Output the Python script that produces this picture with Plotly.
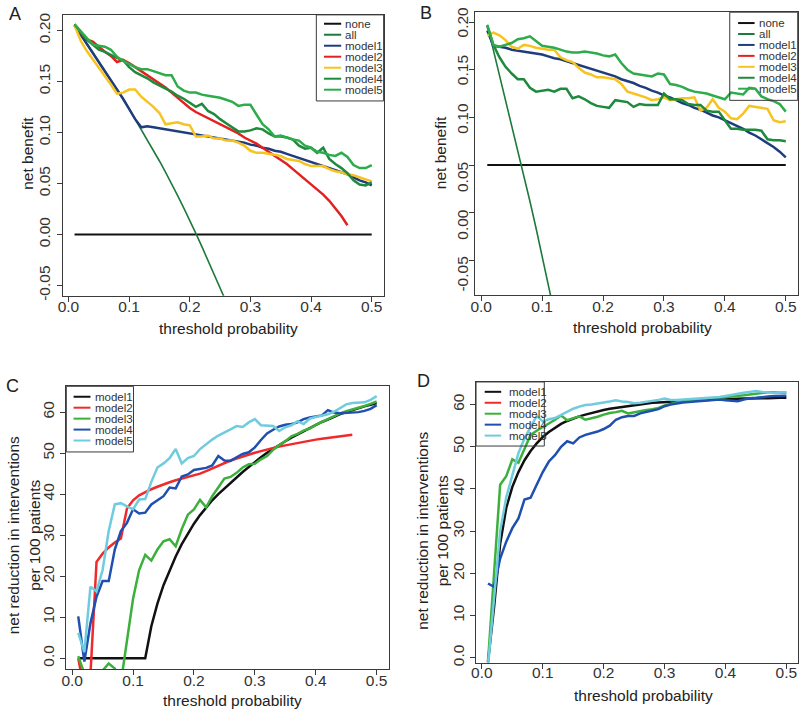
import plotly.graph_objects as go

# ---------------- data ----------------
pt = [0.01, 0.02, 0.03, 0.04, 0.05, 0.06, 0.07, 0.08, 0.09, 0.10,
      0.11, 0.12, 0.13, 0.14, 0.15, 0.16, 0.17, 0.18, 0.19, 0.20,
      0.21, 0.22, 0.23, 0.24, 0.25, 0.26, 0.27, 0.28, 0.29, 0.30,
      0.31, 0.32, 0.33, 0.34, 0.35, 0.36, 0.37, 0.38, 0.39, 0.40,
      0.41, 0.42, 0.43, 0.44, 0.45, 0.46, 0.47, 0.48, 0.49, 0.50]

# Panel A (net benefit)
A_none = [0.0] * 50
A_all = [0.205, 0.196, 0.188, 0.179, 0.170, 0.161, 0.152, 0.143, 0.133, 0.123,
         0.113, 0.103, 0.093, 0.083, 0.072, 0.061, 0.050, 0.038, 0.026, 0.014,
         0.001, -0.012, -0.025, -0.038, -0.052, -0.066]
A_model1 = [0.205, 0.196, 0.188, 0.179, 0.170, 0.161, 0.152, 0.143, 0.133, 0.123,
            0.113, 0.105, 0.106, 0.105, 0.104, 0.103, 0.102, 0.101, 0.100, 0.099,
            0.098, 0.097, 0.096, 0.095, 0.094, 0.093, 0.092, 0.091, 0.090, 0.088,
            0.087, 0.085, 0.084, 0.082, 0.081, 0.079, 0.077, 0.075, 0.073, 0.071,
            0.069, 0.067, 0.065, 0.063, 0.061, 0.059, 0.056, 0.053, 0.051, 0.048]
A_model2 = [0.205, 0.198, 0.191, 0.189, 0.184, 0.179, 0.175, 0.169, 0.171, 0.168,
            0.164, 0.160, 0.156, 0.152, 0.148, 0.144, 0.139, 0.134, 0.129, 0.124,
            0.120, 0.117, 0.114, 0.111, 0.108, 0.105, 0.102, 0.099, 0.095, 0.092,
            0.089, 0.085, 0.081, 0.077, 0.073, 0.069, 0.064, 0.059, 0.054, 0.049,
            0.044, 0.039, 0.033, 0.026, 0.018, 0.009]
A_model3 = [0.205, 0.190, 0.180, 0.172, 0.164, 0.156, 0.147, 0.138, 0.139, 0.142,
            0.142, 0.135, 0.130, 0.125, 0.119, 0.108, 0.109, 0.110, 0.108, 0.107,
            0.096, 0.096, 0.097, 0.094, 0.094, 0.092, 0.092, 0.090, 0.087, 0.082,
            0.080, 0.080, 0.079, 0.078, 0.077, 0.074, 0.073, 0.072, 0.069, 0.067,
            0.067, 0.067, 0.064, 0.062, 0.061, 0.059, 0.058, 0.056, 0.054, 0.052]
A_model4 = [0.206, 0.198, 0.191, 0.186, 0.181, 0.179, 0.176, 0.173, 0.171, 0.164,
            0.159, 0.156, 0.153, 0.149, 0.146, 0.143, 0.140, 0.136, 0.133, 0.129,
            0.125, 0.128, 0.121, 0.118, 0.113, 0.109, 0.105, 0.101, 0.101, 0.102,
            0.104, 0.103, 0.099, 0.096, 0.096, 0.095, 0.093, 0.087, 0.084, 0.085,
            0.080, 0.085, 0.074, 0.069, 0.065, 0.060, 0.053, 0.049, 0.048, 0.051]
A_model5 = [0.206, 0.199, 0.192, 0.186, 0.185, 0.184, 0.181, 0.174, 0.170, 0.167,
            0.164, 0.162, 0.162, 0.160, 0.158, 0.156, 0.156, 0.145, 0.141, 0.139,
            0.139, 0.137, 0.136, 0.135, 0.134, 0.132, 0.130, 0.126, 0.127, 0.127,
            0.118, 0.108, 0.103, 0.096, 0.097, 0.095, 0.093, 0.092, 0.087, 0.085,
            0.081, 0.080, 0.078, 0.077, 0.080, 0.076, 0.068, 0.065, 0.065, 0.068]

# Panel B (net benefit)
B_none = [0.05] * 50
B_all = [0.197, 0.171, 0.145, 0.119, 0.093, 0.067, 0.040, 0.012, -0.016, -0.045,
         -0.075, -0.105]
B_model1 = [0.191, 0.175, 0.174, 0.173, 0.171, 0.170, 0.169, 0.168, 0.167, 0.166,
            0.164, 0.162, 0.161, 0.159, 0.157, 0.155, 0.153, 0.151, 0.149, 0.147,
            0.145, 0.143, 0.140, 0.138, 0.136, 0.133, 0.131, 0.128, 0.126, 0.123,
            0.121, 0.118, 0.115, 0.113, 0.110, 0.108, 0.105, 0.102, 0.100, 0.097,
            0.094, 0.091, 0.088, 0.084, 0.081, 0.077, 0.073, 0.069, 0.064, 0.058]
B_model3 = [0.186, 0.189, 0.186, 0.181, 0.174, 0.172, 0.176, 0.175, 0.173, 0.172,
            0.171, 0.171, 0.163, 0.160, 0.158, 0.152, 0.147, 0.145, 0.142, 0.142,
            0.141, 0.140, 0.135, 0.127, 0.125, 0.123, 0.121, 0.118, 0.119, 0.121,
            0.118, 0.119, 0.120, 0.120, 0.121, 0.107, 0.110, 0.119, 0.110, 0.106,
            0.099, 0.098, 0.104, 0.112, 0.111, 0.110, 0.109, 0.097, 0.095, 0.096]
B_model4 = [0.196, 0.176, 0.163, 0.153, 0.146, 0.140, 0.140, 0.131, 0.127, 0.128,
            0.129, 0.127, 0.130, 0.130, 0.120, 0.122, 0.119, 0.115, 0.112, 0.111,
            0.110, 0.118, 0.117, 0.116, 0.111, 0.114, 0.113, 0.113, 0.113, 0.125,
            0.119, 0.119, 0.118, 0.114, 0.113, 0.113, 0.107, 0.106, 0.106, 0.097,
            0.088, 0.088, 0.087, 0.087, 0.087, 0.086, 0.077, 0.076, 0.076, 0.075]
B_model5 = [0.197, 0.176, 0.174, 0.176, 0.178, 0.182, 0.183, 0.185, 0.180, 0.175,
            0.174, 0.173, 0.171, 0.169, 0.168, 0.168, 0.169, 0.168, 0.167, 0.165,
            0.164, 0.166, 0.157, 0.150, 0.146, 0.145, 0.144, 0.143, 0.146, 0.145,
            0.135, 0.134, 0.132, 0.129, 0.127, 0.126, 0.125, 0.123, 0.121, 0.119,
            0.126, 0.125, 0.124, 0.131, 0.130, 0.122, 0.119, 0.117, 0.114, 0.106]

# Panel C (net reduction in interventions)
C_model1 = [0.0, 0.0, 0.0, 0.0, 0.0, 0.0, 0.0, 0.0, 0.0, 0.0,
            0.0, 0.0, 7.8, 13.3, 17.8, 21.5, 24.8, 27.8, 30.4, 32.8,
            34.9, 36.8, 38.5, 40.0, 41.4, 42.8, 44.1, 45.4, 46.6, 47.9,
            49.0, 50.1, 51.1, 52.1, 52.9, 53.8, 54.6, 55.4, 56.1, 56.8,
            57.6, 58.2, 58.9, 59.5, 60.0, 60.5, 61.0, 61.4, 61.8, 62.2]
C_model2 = [0.0, -8.0, -4.0, 23.5, 25.5, 27.0, 28.2, 29.2, 36.5, 38.5,
            39.7, 40.5, 41.2, 41.8, 42.4, 42.9, 43.4, 43.8, 44.2, 44.6,
            45.0, 45.6, 46.3, 47.0, 47.6, 48.2, 48.7, 49.2, 49.7, 50.1,
            50.5, 50.9, 51.3, 51.6, 51.9, 52.2, 52.5, 52.8, 53.0, 53.3,
            53.5, 53.7, 53.9, 54.1, 54.3, 54.5]
C_model3 = [0.5, -4.0, -8.0, -6.0, -3.0, -1.3, -2.5, -6.0, 4.5, 14.5,
            21.5, 25.2, 23.8, 26.5, 28.5, 29.0, 27.3, 31.5, 35.0, 36.3,
            38.6, 36.8, 39.5, 41.5, 43.8, 44.2, 45.2, 46.5, 47.3, 47.4,
            48.5, 49.3, 50.8, 52.0, 52.9, 54.1, 54.7, 55.5, 56.0, 56.9,
            57.6, 58.5, 59.0, 59.7, 60.2, 60.6, 61.0, 61.5, 62.0, 62.6]
C_model4 = [10.2, -0.8, 8.5, 15.0, 18.8, 18.8, 26.5, 31.0, 33.0, 36.3,
            35.3, 35.5, 37.5, 38.5, 39.5, 41.6, 41.4, 44.3, 44.8, 45.9,
            46.1, 46.4, 47.0, 49.3, 48.2, 48.1, 49.0, 49.8, 50.2, 51.4,
            53.2, 54.8, 55.7, 56.5, 56.9, 57.1, 57.5, 58.3, 58.7, 58.9,
            59.2, 60.5, 59.9, 59.7, 59.8, 59.9, 60.0, 60.3, 60.8, 61.7]
C_model5 = [6.2, 1.5, 17.4, 16.3, 21.5, 31.0, 37.5, 37.8, 37.0, 36.3,
            38.7, 38.8, 43.0, 46.5, 47.5, 48.8, 51.0, 47.5, 48.8, 49.3,
            51.0, 52.2, 53.3, 54.3, 55.0, 55.8, 56.6, 56.4, 57.5, 58.3,
            56.8, 56.7, 56.6, 55.4, 56.3, 56.8, 57.8, 57.1, 58.4, 58.8,
            59.2, 59.5, 60.1, 61.0, 61.9, 62.2, 62.3, 62.4, 63.0, 63.9]

# Panel D (net reduction in interventions)
D_model1 = [-1.0, 12.0, 27.0, 35.5, 40.5, 44.0, 46.8, 49.0, 50.8, 52.3,
            53.5, 54.5, 55.4, 56.1, 56.7, 57.2, 57.6, 58.0, 58.4, 58.7,
            59.0, 59.2, 59.5, 59.7, 59.9, 60.1, 60.2, 60.4, 60.5, 60.6,
            60.7, 60.8, 60.9, 61.0, 61.0, 61.1, 61.1, 61.2, 61.2, 61.3,
            61.3, 61.4, 61.4, 61.4, 61.5, 61.5, 61.5, 61.6, 61.6, 61.6]
D_model3 = [-1.0, 20.0, 41.0, 43.0, 47.0, 46.2, 49.5, 52.8, 53.8, 54.6,
            55.5, 56.4, 57.4, 56.3, 56.8, 57.2, 56.4, 56.7, 57.1, 57.6,
            58.0, 58.2, 58.5, 57.9, 58.2, 58.5, 58.7, 58.9, 59.2, 59.8,
            60.2, 60.5, 60.7, 60.9, 61.0, 61.2, 61.3, 61.4, 61.5, 61.7,
            61.9, 62.0, 62.2, 62.4, 62.6, 62.8, 62.9, 62.9, 62.8, 62.8]
D_model4 = [17.6, 16.8, 23.5, 27.5, 30.7, 33.0, 37.5, 37.9, 41.0, 44.0,
            46.5, 48.0, 50.0, 51.3, 50.8, 52.2, 52.8, 53.2, 53.6, 54.2,
            55.0, 56.4, 57.0, 57.3, 57.3, 57.9, 58.3, 58.6, 58.9, 59.6,
            60.0, 60.3, 60.5, 60.6, 60.7, 60.8, 61.0, 61.1, 61.2, 61.0,
            60.9, 60.8, 61.2, 61.5, 61.6, 61.8, 61.9, 62.0, 62.1, 62.1]
D_model5 = [-2.0, 15.0, 30.0, 38.0, 43.5, 48.5, 52.0, 54.5, 57.3, 56.0,
            56.5, 56.8, 57.6, 58.4, 59.0, 59.5, 59.9, 60.0, 60.2, 60.5,
            60.7, 61.0, 60.7, 60.6, 60.3, 60.4, 60.6, 60.8, 61.1, 61.4,
            61.1, 61.1, 61.2, 61.3, 61.4, 61.4, 61.5, 61.6, 61.8, 62.0,
            62.3, 62.6, 62.8, 63.0, 63.2, 63.0, 62.9, 62.8, 62.9, 62.9]

nb_ticks = [-0.05, 0.0, 0.05, 0.10, 0.15, 0.20]
nb_ticktext = ["-0.05", "0.00", "0.05", "0.10", "0.15", "0.20"]
B_label_pos = [-0.0666, -0.0149, 0.0351, 0.0963, 0.1472, 0.1972]
nr_ticks = [0, 10, 20, 30, 40, 50, 60]
nr_ticktext = ["0.0", "10", "20", "30", "40", "50", "60"]
x_ticks = [0.0, 0.1, 0.2, 0.3, 0.4, 0.5]
x_ticktext = ["0.0", "0.1", "0.2", "0.3", "0.4", "0.5"]

legend_AB = ["none", "all", "model1", "model2", "model3", "model4", "model5"]
legend_CD = ["model1", "model2", "model3", "model4", "model5"]

# ---------------- styles ----------------
W, H = 800, 715
FONT = "Liberation Sans, Arial, Helvetica, sans-serif"
TXT = "#222222"
AX = "#3a3a3a"

col_AB = {"none": "#111111", "all": "#1d7a3a", "model1": "#1f3d7d",
          "model2": "#e3221f", "model3": "#f7c321", "model4": "#1e8a3d",
          "model5": "#2eab4b"}
col_CD = {"model1": "#111111", "model2": "#f02a2a", "model3": "#3bb03b",
          "model4": "#1f4fb0", "model5": "#6fcbde"}


def px(x):
    return x / W


def py(y):
    return 1 - y / H


fig = go.Figure()


def add(x, y, color, width, ax):
    fig.add_trace(go.Scatter(x=x[:len(y)], y=y, mode="lines",
                             line=dict(color=color, width=width),
                             xaxis="x" + ax, yaxis="y" + ax,
                             showlegend=False, hoverinfo="skip"))


# Panel A
add(pt, A_none, col_AB["none"], 2, "")
add(pt, A_all, col_AB["all"], 1.6, "")
add(pt, A_model1, col_AB["model1"], 2.5, "")
add(pt, A_model2, col_AB["model2"], 2.5, "")
add(pt, A_model3, col_AB["model3"], 2.5, "")
add(pt, A_model4, col_AB["model4"], 2.5, "")
add(pt, A_model5, col_AB["model5"], 2.5, "")
# Panel B
add(pt, B_none, col_AB["none"], 2, "2")
add(pt, B_all, col_AB["all"], 1.6, "2")
add(pt, B_model1, col_AB["model1"], 2.5, "2")
add(pt, B_model3, col_AB["model3"], 2.5, "2")
add(pt, B_model4, col_AB["model4"], 2.5, "2")
add(pt, B_model5, col_AB["model5"], 2.5, "2")
# Panel C
add(pt, C_model1, col_CD["model1"], 2.5, "3")
add(pt, C_model2, col_CD["model2"], 2.5, "3")
add(pt, C_model3, col_CD["model3"], 2.5, "3")
add(pt, C_model4, col_CD["model4"], 2.5, "3")
add(pt, C_model5, col_CD["model5"], 2.5, "3")
# Panel D
add(pt, D_model1, col_CD["model1"], 2.5, "4")
add(pt, D_model3, col_CD["model3"], 2.5, "4")
add(pt, D_model4, col_CD["model4"], 2.5, "4")
add(pt, D_model5, col_CD["model5"], 2.5, "4")

# axes
panels = {
    "": dict(x=(58, 381), y=(10, 295), yr=[-0.0602, 0.2152], xs=-8),
    "2": dict(x=(473.3, 797.7), y=(7.3, 294.3), yr=[-0.0865, 0.2103], xs=-8),
    "3": dict(x=(61.7, 386), y=(386.7, 673.3), yr=[-2.6, 66.3], xs=-7),
    "4": dict(x=(474, 798.3), y=(382.3, 667.7), yr=[-1.33, 65.35], xs=-10),
}
common = dict(showline=True, mirror=True, linecolor=AX, linewidth=1,
              ticks="outside", ticklen=5, tickcolor=AX, tickwidth=1,
              showgrid=False, zeroline=False,
              tickfont=dict(family=FONT, size=15.5, color="#333333"))
layout = {}
for k, p in panels.items():
    xa = dict(common, domain=[px(p["x"][0]), px(p["x"][1])],
              range=[-0.0096, 0.5196], tickmode="array",
              tickvals=x_ticks, ticktext=x_ticktext, anchor="y" + k,
              ticklabelstandoff=p["xs"])
    ya = dict(common, domain=[py(p["y"][1]), py(p["y"][0])],
              range=p["yr"], tickangle=-90, anchor="x" + k)
    if k == "":
        ya.update(tickmode="array", tickvals=nb_ticks, ticktext=nb_ticktext)
    elif k == "2":
        ya.update(tickmode="array", tickvals=B_label_pos, ticktext=nb_ticktext,
                  ticks="",
                  minor=dict(tickmode="array", tickvals=nb_ticks, ticks="outside",
                             ticklen=5, tickcolor=AX, tickwidth=1, showgrid=False))
    else:
        ya.update(tickmode="array", tickvals=nr_ticks, ticktext=nr_ticktext)
    layout["xaxis" + k] = xa
    layout["yaxis" + k] = ya

fig.update_layout(**layout)

annotations = []
shapes = []


def text(t, x, y, size=15.5, angle=0, anchor="center", color=TXT):
    annotations.append(dict(text=t, x=px(x), y=py(y), xref="paper", yref="paper",
                            showarrow=False, textangle=angle, xanchor=anchor,
                            yanchor="middle",
                            font=dict(family=FONT, size=size, color=color)))


# panel letters
text("A", 10, 9, size=18)
text("B", 424, 8.5, size=18)
text("C", 7.5, 386, size=18)
text("D", 421, 381, size=18)

# axis titles
text("threshold probability", 225, 328)
text("net benefit", 23, 150, angle=-90)
text("threshold probability", 642, 327)
text("net benefit", 439, 150, angle=-90)
text("threshold probability", 229, 705)
text("net reduction in interventions<br>per 100 patients", 19, 538, angle=-90)
text("threshold probability", 643, 700)
text("net reduction in interventions<br>per 100 patients", 430, 533, angle=-90)


def legend(box, names, colors, y0, dy, lx0, lx1, tx):
    shapes.append(dict(type="rect", xref="paper", yref="paper",
                       x0=px(box[0]), x1=px(box[1]), y0=py(box[3]), y1=py(box[2]),
                       line=dict(color=AX, width=1), fillcolor="rgba(0,0,0,0)",
                       layer="above"))
    for i, n in enumerate(names):
        yy = y0 + i * dy
        shapes.append(dict(type="line", xref="paper", yref="paper",
                           x0=px(lx0), x1=px(lx1), y0=py(yy), y1=py(yy),
                           line=dict(color=colors[n], width=2), layer="above"))
        text(n, tx, yy, size=11.5, anchor="left", color="#333333")


legend((313.3, 381, 10, 97.3), legend_AB, col_AB, 19, 11.15, 321, 338.3, 340.5)
legend((729.3, 797.7, 7.3, 96.7), legend_AB, col_AB, 18.3, 11.1, 737.7, 754.3, 756.5)
legend((61.7, 129.3, 386.7, 453.3), legend_CD, col_CD, 397.3, 11.1, 69, 86, 89)
legend((474, 542.7, 382.3, 447.3), legend_CD, col_CD, 392.3, 11.1, 482.7, 499.3, 505.5)

fig.update_layout(width=W, height=H, margin=dict(l=0, r=0, t=0, b=0),
                  paper_bgcolor="white", plot_bgcolor="white",
                  showlegend=False, annotations=annotations, shapes=shapes,
                  font=dict(family=FONT))

fig.write_html("out.html", config={"displayModeBar": False},
               post_script="document.body.style.margin='0';"
                           "document.body.style.padding='0';"
                           "document.body.style.overflow='hidden';")
